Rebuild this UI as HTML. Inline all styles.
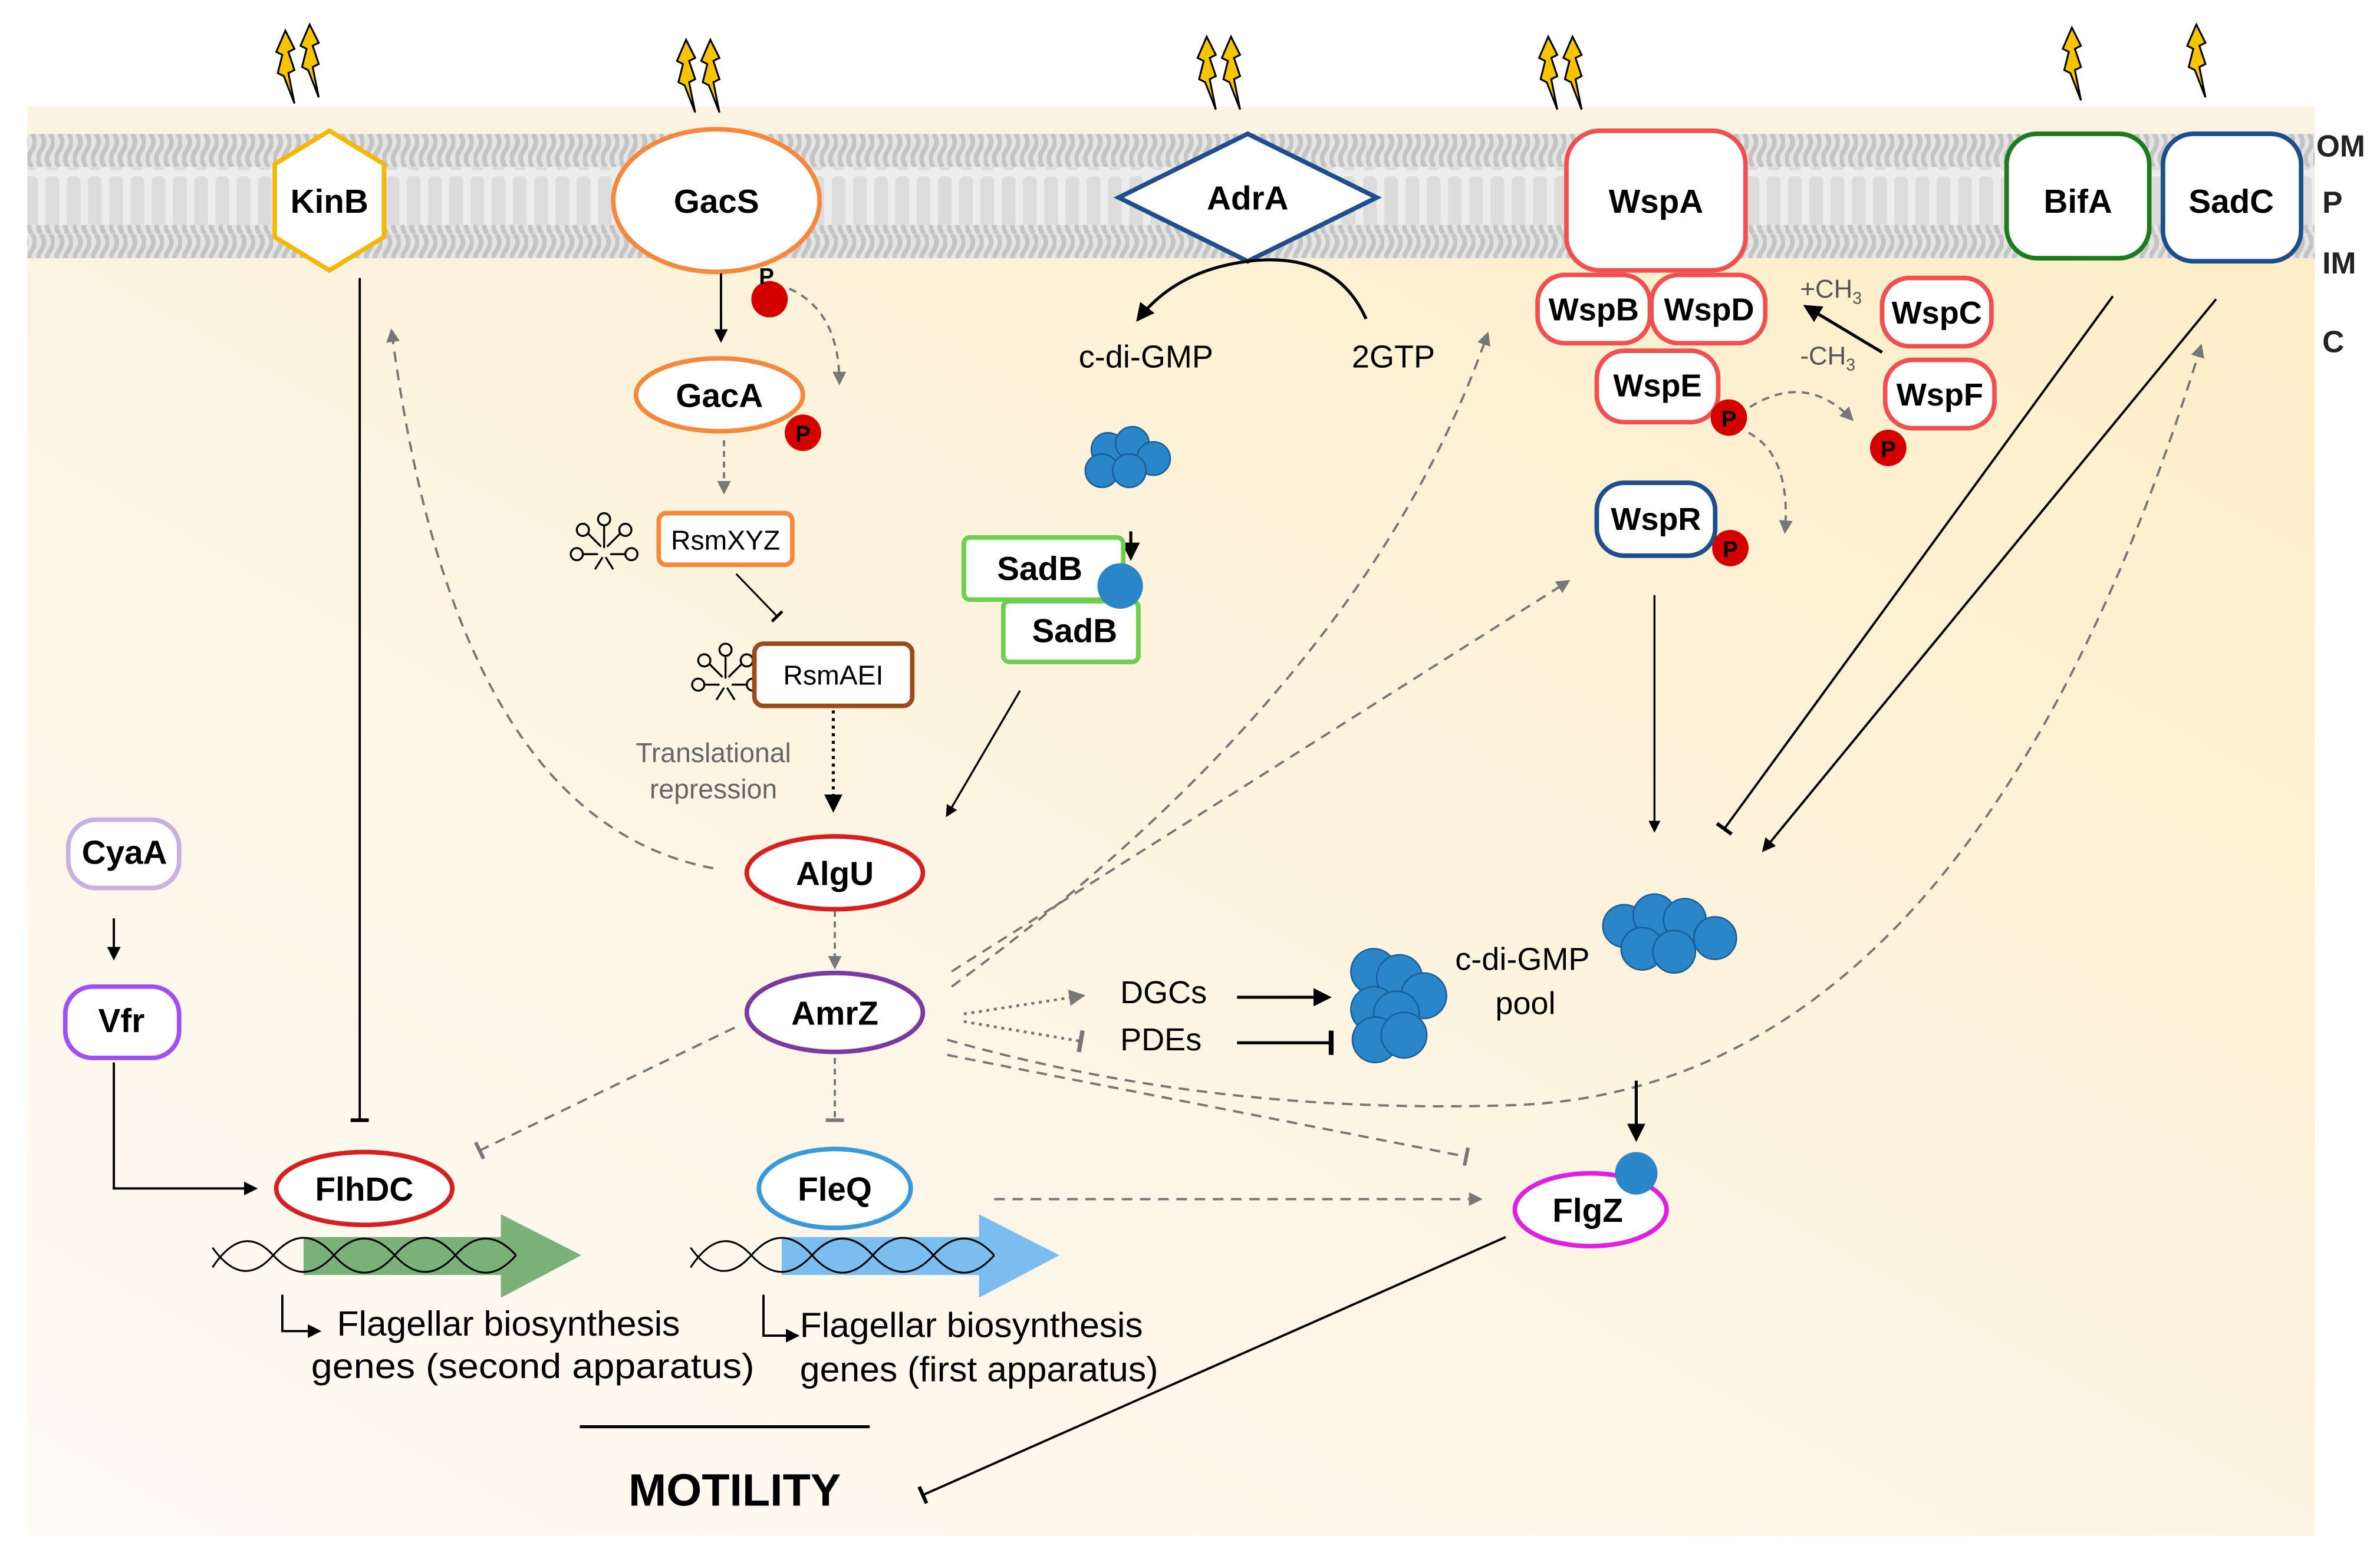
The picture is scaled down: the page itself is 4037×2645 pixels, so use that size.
<!DOCTYPE html>
<html><head><meta charset="utf-8"><style>
html,body{margin:0;padding:0;background:#fff;}
svg{display:block;}
text{font-family:"Liberation Sans",sans-serif;}
</style></head><body>
<svg width="4037" height="2645" viewBox="0 0 1568 1027" xmlns="http://www.w3.org/2000/svg">
<defs>
<linearGradient id="cyto" x1="1" y1="0" x2="0" y2="1">
<stop offset="0" stop-color="#fdeec8"/><stop offset="0.6" stop-color="#fdf5e6"/><stop offset="1" stop-color="#fefbf5"/>
</linearGradient>
<pattern id="lip" width="12" height="22" patternUnits="userSpaceOnUse">
<rect width="12" height="22" fill="#e4e4e4"/><path d="M3 0 q4 5 0 11 q-4 5 0 11 M9 0 q4 5 0 11 q-4 5 0 11" stroke="#c4c4c4" stroke-width="3" fill="none"/>
</pattern>
<pattern id="lip2" width="14" height="38" patternUnits="userSpaceOnUse">
<rect width="14" height="38" fill="#ededed"/><rect x="2" y="2" width="9" height="34" rx="3" fill="#dcdcdc"/>
</pattern>
<marker id="ab" viewBox="0 0 10 10" refX="8" refY="5" markerWidth="6" markerHeight="6" orient="auto"><path d="M0 0L10 5L0 10z" fill="#000"/></marker>
<marker id="ag" viewBox="0 0 10 10" refX="8" refY="5" markerWidth="6" markerHeight="6" orient="auto"><path d="M0 0L10 5L0 10z" fill="#777"/></marker>
<marker id="tb" viewBox="0 0 10 10" refX="5" refY="5" markerWidth="8" markerHeight="8" orient="auto"><path d="M5 0V10" stroke="#000" stroke-width="2"/></marker>
<marker id="tg" viewBox="0 0 10 10" refX="5" refY="5" markerWidth="8" markerHeight="8" orient="auto"><path d="M5 0V10" stroke="#777" stroke-width="2"/></marker>
<g id="cl"><circle cx="-12" cy="-6" r="11"/><circle cx="4" cy="-10" r="11"/><circle cx="18" cy="0" r="11"/><circle cx="-16" cy="8" r="11"/><circle cx="2" cy="8" r="11"/></g>
<g id="bolt"><path d="M0 0 L-6 14 L-2 16 L-5 28 L-1 30 L6 48 L2 28 L6 26 L2 14 L6 12 Z" fill="#f7c500" stroke="#000" stroke-width="1.2"/></g>
<g id="rna" fill="none" stroke="#000" stroke-width="1.3"><circle cx="0" cy="-15" r="4"/><circle cx="-14" cy="-8" r="4"/><circle cx="14" cy="-8" r="4"/><circle cx="-18" cy="8" r="4"/><circle cx="18" cy="8" r="4"/><path d="M0 -11V4M-11 -6L-2 3M11 -6L2 3M-14 8H-4M14 8H4M-6 18L-1 10M6 18L1 10"/></g>
</defs>
<rect width="1568" height="1027" fill="#fff"/>
<rect x="18" y="170" width="1507" height="842" fill="url(#cyto)"/>
<rect x="18" y="70" width="1507" height="18" fill="#fdf0dc" opacity="0.8"/>
<rect x="18" y="88" width="1507" height="22" fill="url(#lip)"/>
<rect x="18" y="110" width="1507" height="38" fill="url(#lip2)"/>
<rect x="18" y="148" width="1507" height="22" fill="url(#lip)"/>
<g font-size="20" font-weight="bold" fill="#222"><text x="1526" y="103">OM</text><text x="1530" y="140">P</text><text x="1530" y="180">IM</text><text x="1530" y="232">C</text></g>
<use href="#bolt" x="188" y="20"/><use href="#bolt" x="204" y="16"/>
<use href="#bolt" x="452" y="26"/><use href="#bolt" x="468" y="26"/>
<use href="#bolt" x="795" y="24"/><use href="#bolt" x="811" y="24"/>
<use href="#bolt" x="1020" y="24"/><use href="#bolt" x="1036" y="24"/>
<use href="#bolt" x="1365" y="18"/><use href="#bolt" x="1447" y="16"/>
<polygon points="217,86 253,108 253,156 217,178 181,156 181,108" fill="#fff" stroke="#f5b800" stroke-width="3"/>
<text x="217" y="140" text-anchor="middle" font-size="22" font-weight="bold">KinB</text>
<ellipse cx="472" cy="132" rx="68" ry="47" fill="#fff" stroke="#f7873a" stroke-width="3"/>
<text x="472" y="140" text-anchor="middle" font-size="22" font-weight="bold">GacS</text>
<polygon points="822,88 907,130 822,172 737,130" fill="#fff" stroke="#1f4e8c" stroke-width="3"/>
<text x="822" y="138" text-anchor="middle" font-size="22" font-weight="bold">AdrA</text>
<rect x="1032" y="86" width="118" height="92" rx="22" fill="#fff" stroke="#f05050" stroke-width="3"/>
<text x="1091" y="140" text-anchor="middle" font-size="22" font-weight="bold">WspA</text>
<rect x="1322" y="88" width="94" height="82" rx="20" fill="#fff" stroke="#1e7a1e" stroke-width="3"/>
<text x="1369" y="140" text-anchor="middle" font-size="22" font-weight="bold">BifA</text>
<rect x="1425" y="88" width="91" height="84" rx="20" fill="#fff" stroke="#1f4e8c" stroke-width="3"/>
<text x="1470" y="140" text-anchor="middle" font-size="22" font-weight="bold">SadC</text>
<circle cx="507" cy="197" r="12" fill="#d40000"/><text x="500" y="187" font-size="15" font-weight="bold">P</text>
<path d="M520 190 Q553 205 553 252" fill="none" stroke="#777" stroke-width="1.5" stroke-dasharray="5,4" marker-end="url(#ag)"/>
<line x1="475" y1="180" x2="475" y2="224" stroke="#000" stroke-width="1.5" marker-end="url(#ab)"/>
<ellipse cx="474" cy="260" rx="55" ry="24" fill="#fff" stroke="#f7873a" stroke-width="3"/>
<text x="474" y="268" text-anchor="middle" font-size="22" font-weight="bold">GacA</text>
<circle cx="529" cy="285" r="12" fill="#d40000"/><text x="529" y="291" text-anchor="middle" font-size="15" font-weight="bold">P</text>
<line x1="477" y1="290" x2="477" y2="324" stroke="#777" stroke-width="1.5" stroke-dasharray="4,3" marker-end="url(#ag)"/>
<use href="#rna" x="398" y="357"/>
<rect x="434" y="338" width="88" height="34" rx="5" fill="#fff" stroke="#f7873a" stroke-width="3"/>
<text x="478" y="362" text-anchor="middle" font-size="18">RsmXYZ</text>
<line x1="485" y1="378" x2="512" y2="406" stroke="#000" stroke-width="1.2" marker-end="url(#tb)"/>
<use href="#rna" x="478" y="443"/>
<rect x="497" y="424" width="104" height="41" rx="6" fill="#fff" stroke="#9b4a1c" stroke-width="3"/>
<text x="549" y="451" text-anchor="middle" font-size="18">RsmAEI</text>
<text x="470" y="502" text-anchor="middle" font-size="18" fill="#666">Translational</text>
<text x="470" y="526" text-anchor="middle" font-size="18" fill="#666">repression</text>
<line x1="549" y1="468" x2="549" y2="533" stroke="#000" stroke-width="2" stroke-dasharray="2,3" marker-end="url(#ab)"/>
<ellipse cx="550" cy="575" rx="58" ry="24" fill="#fff" stroke="#d62020" stroke-width="3"/>
<text x="550" y="583" text-anchor="middle" font-size="22" font-weight="bold">AlgU</text>
<path d="M470 572 Q300 540 258 218" fill="none" stroke="#777" stroke-width="1.5" stroke-dasharray="7,5" marker-end="url(#ag)"/>
<line x1="550" y1="600" x2="550" y2="637" stroke="#777" stroke-width="1.5" stroke-dasharray="4,3" marker-end="url(#ag)"/>
<ellipse cx="550" cy="667" rx="58" ry="26" fill="#fff" stroke="#7b3aa0" stroke-width="3"/>
<text x="550" y="675" text-anchor="middle" font-size="22" font-weight="bold">AmrZ</text>
<path d="M900 210 Q880 165 822 172 Q775 178 750 210" fill="none" stroke="#000" stroke-width="2" marker-end="url(#ab)"/>
<text x="755" y="242" text-anchor="middle" font-size="21">c-di-GMP</text>
<text x="918" y="242" text-anchor="middle" font-size="21">2GTP</text>
<g fill="#2a86c8" stroke="#1a5f95" stroke-width="1"><use href="#cl" x="742" y="302"/></g>
<line x1="745" y1="350" x2="745" y2="367" stroke="#000" stroke-width="2" marker-end="url(#ab)"/>
<rect x="635" y="354" width="105" height="41" rx="4" fill="#fff" stroke="#6ccf4e" stroke-width="3"/>
<text x="685" y="382" text-anchor="middle" font-size="22" font-weight="bold">SadB</text>
<rect x="661" y="396" width="89" height="40" rx="4" fill="#fff" stroke="#6ccf4e" stroke-width="3"/>
<text x="708" y="423" text-anchor="middle" font-size="22" font-weight="bold">SadB</text>
<circle cx="738" cy="386" r="15" fill="#2a86c8"/>
<line x1="672" y1="455" x2="624" y2="537" stroke="#000" stroke-width="1.3" marker-end="url(#ab)"/>
<g stroke="#f05050" stroke-width="3">
<rect x="1013" y="181" width="74" height="45" rx="18" fill="#fff"/><rect x="1088" y="181" width="75" height="45" rx="18" fill="#fff"/>
<rect x="1052" y="231" width="80" height="47" rx="18" fill="#fff"/><rect x="1240" y="183" width="72" height="45" rx="18" fill="#fff"/>
<rect x="1242" y="237" width="72" height="45" rx="18" fill="#fff"/>
</g>
<g font-size="21" font-weight="bold" text-anchor="middle">
<text x="1050" y="211">WspB</text><text x="1126" y="211">WspD</text><text x="1092" y="261">WspE</text><text x="1276" y="213">WspC</text><text x="1278" y="267">WspF</text></g>
<text x="1186" y="196" font-size="17" fill="#555">+CH<tspan font-size="11" dy="4">3</tspan></text>
<text x="1186" y="240" font-size="17" fill="#555">-CH<tspan font-size="11" dy="4">3</tspan></text>
<line x1="1240" y1="232" x2="1190" y2="202" stroke="#000" stroke-width="2" marker-end="url(#ab)"/>
<circle cx="1139" cy="275" r="12" fill="#d40000"/><text x="1139" y="281" text-anchor="middle" font-size="15" font-weight="bold">P</text>
<circle cx="1244" cy="295" r="12" fill="#d40000"/><text x="1244" y="301" text-anchor="middle" font-size="15" font-weight="bold">P</text>
<path d="M1153 268 Q1190 245 1220 276" fill="none" stroke="#777" stroke-width="1.5" stroke-dasharray="5,4" marker-end="url(#ag)"/>
<path d="M1152 285 Q1180 300 1176 350" fill="none" stroke="#777" stroke-width="1.5" stroke-dasharray="5,4" marker-end="url(#ag)"/>
<rect x="1052" y="318" width="78" height="48" rx="18" fill="#fff" stroke="#1f4e8c" stroke-width="3"/>
<text x="1091" y="349" text-anchor="middle" font-size="21" font-weight="bold">WspR</text>
<circle cx="1140" cy="361" r="12" fill="#d40000"/><text x="1140" y="367" text-anchor="middle" font-size="15" font-weight="bold">P</text>
<line x1="1090" y1="392" x2="1090" y2="547" stroke="#000" stroke-width="1.3" marker-end="url(#ab)"/>
<line x1="1392" y1="195" x2="1136" y2="546" stroke="#000" stroke-width="1.5" marker-end="url(#tb)"/>
<line x1="1460" y1="197" x2="1162" y2="560" stroke="#000" stroke-width="1.5" marker-end="url(#ab)"/>
<path d="M627 640 L1033 383" fill="none" stroke="#777" stroke-width="1.5" stroke-dasharray="7,5" marker-end="url(#ag)"/>
<path d="M627 650 Q900 450 980 220" fill="none" stroke="#777" stroke-width="1.5" stroke-dasharray="7,5" marker-end="url(#ag)"/>
<path d="M624 685 Q800 735 1000 728 Q1300 715 1450 228" fill="none" stroke="#777" stroke-width="1.5" stroke-dasharray="7,5" marker-end="url(#ag)"/>
<line x1="624" y1="695" x2="966" y2="762" stroke="#777" stroke-width="1.5" stroke-dasharray="7,5" marker-end="url(#tg)"/>
<line x1="484" y1="677" x2="316" y2="758" stroke="#777" stroke-width="1.5" stroke-dasharray="7,5" marker-end="url(#tg)"/>
<line x1="550" y1="697" x2="550" y2="738" stroke="#777" stroke-width="1.5" stroke-dasharray="4,3" marker-end="url(#tg)"/>
<line x1="635" y1="668" x2="713" y2="656" stroke="#777" stroke-width="1.8" stroke-dasharray="2,3" marker-end="url(#ag)"/>
<line x1="635" y1="673" x2="712" y2="686" stroke="#777" stroke-width="1.8" stroke-dasharray="2,3" marker-end="url(#tg)"/>
<text x="738" y="661" font-size="21">DGCs</text><text x="738" y="692" font-size="21">PDEs</text>
<line x1="815" y1="657" x2="875" y2="657" stroke="#000" stroke-width="2" marker-end="url(#ab)"/>
<line x1="815" y1="687" x2="877" y2="687" stroke="#000" stroke-width="2" marker-end="url(#tb)"/>
<g fill="#2a86c8" stroke="#1a5f95" stroke-width="1"><circle cx="905" cy="640" r="15"/><circle cx="922" cy="644" r="15"/><circle cx="905" cy="665" r="15"/><circle cx="938" cy="656" r="15"/><circle cx="920" cy="668" r="15"/><circle cx="906" cy="685" r="15"/><circle cx="925" cy="682" r="15"/></g>
<text x="1003" y="639" text-anchor="middle" font-size="21">c-di-GMP</text><text x="1005" y="668" text-anchor="middle" font-size="21">pool</text>
<g fill="#2a86c8" stroke="#1a5f95" stroke-width="1"><circle cx="1070" cy="610" r="14"/><circle cx="1090" cy="603" r="14"/><circle cx="1110" cy="606" r="14"/><circle cx="1130" cy="618" r="14"/><circle cx="1082" cy="625" r="14"/><circle cx="1103" cy="627" r="14"/></g>
<line x1="1078" y1="712" x2="1078" y2="750" stroke="#000" stroke-width="2" marker-end="url(#ab)"/>
<ellipse cx="1048" cy="797" rx="50" ry="24" fill="#fff" stroke="#e020e0" stroke-width="3"/>
<text x="1046" y="805" text-anchor="middle" font-size="22" font-weight="bold">FlgZ</text>
<circle cx="1078" cy="773" r="14" fill="#2a86c8"/>
<line x1="655" y1="790" x2="975" y2="790" stroke="#777" stroke-width="1.5" stroke-dasharray="7,5" marker-end="url(#ag)"/>
<line x1="992" y1="815" x2="608" y2="985" stroke="#000" stroke-width="1.5" marker-end="url(#tb)"/>
<line x1="237" y1="183" x2="237" y2="738" stroke="#000" stroke-width="1.5" marker-end="url(#tb)"/>
<rect x="45" y="540" width="73" height="45" rx="18" fill="#fff" stroke="#c8b0e0" stroke-width="3"/>
<text x="82" y="569" text-anchor="middle" font-size="22" font-weight="bold">CyaA</text>
<line x1="75" y1="605" x2="75" y2="631" stroke="#000" stroke-width="1.5" marker-end="url(#ab)"/>
<rect x="43" y="650" width="75" height="47" rx="18" fill="#fff" stroke="#a050f0" stroke-width="3"/>
<text x="80" y="680" text-anchor="middle" font-size="22" font-weight="bold">Vfr</text>
<polyline points="75,700 75,783 168,783" fill="none" stroke="#000" stroke-width="1.5" marker-end="url(#ab)"/>
<ellipse cx="240" cy="783" rx="58" ry="24" fill="#fff" stroke="#d62020" stroke-width="3"/>
<text x="240" y="791" text-anchor="middle" font-size="22" font-weight="bold">FlhDC</text>
<ellipse cx="550" cy="783" rx="50" ry="26" fill="#fff" stroke="#3a9ad9" stroke-width="3"/>
<text x="550" y="791" text-anchor="middle" font-size="22" font-weight="bold">FleQ</text>
<path d="M200 815 H330 V800 L383 827 L330 855 V840 H200 Z" fill="#6aa86a" opacity="0.9"/>
<path d="M515 815 H645 V800 L698 827 L645 855 V840 H515 Z" fill="#7cbdf0"/>
<g fill="none" stroke="#000" stroke-width="1.2">
<path d="M140 835 Q160 805 180 827 T220 827 T260 827 T300 827 T340 827"/>
<path d="M140 822 Q160 850 180 827 T220 827 T260 827 T300 827 T340 827"/>
<path d="M455 835 Q475 805 495 827 T535 827 T575 827 T615 827 T655 827"/>
<path d="M455 822 Q475 850 495 827 T535 827 T575 827 T615 827 T655 827"/>
</g>
<polyline points="186,853 186,877 210,877" fill="none" stroke="#000" stroke-width="1.5" marker-end="url(#ab)"/>
<polyline points="503,853 503,880 525,880" fill="none" stroke="#000" stroke-width="1.5" marker-end="url(#ab)"/>
<text x="222" y="880" font-size="23" textLength="226" lengthAdjust="spacingAndGlyphs">Flagellar biosynthesis</text>
<text x="205" y="908" font-size="23" textLength="292" lengthAdjust="spacingAndGlyphs">genes (second apparatus)</text>
<text x="527" y="881" font-size="23" textLength="226" lengthAdjust="spacingAndGlyphs">Flagellar biosynthesis</text>
<text x="527" y="910" font-size="23" textLength="236" lengthAdjust="spacingAndGlyphs">genes (first apparatus)</text>
<line x1="382" y1="940" x2="573" y2="940" stroke="#000" stroke-width="2"/>
<text x="484" y="992" text-anchor="middle" font-size="30" font-weight="bold">MOTILITY</text>
</svg>
</body></html>
